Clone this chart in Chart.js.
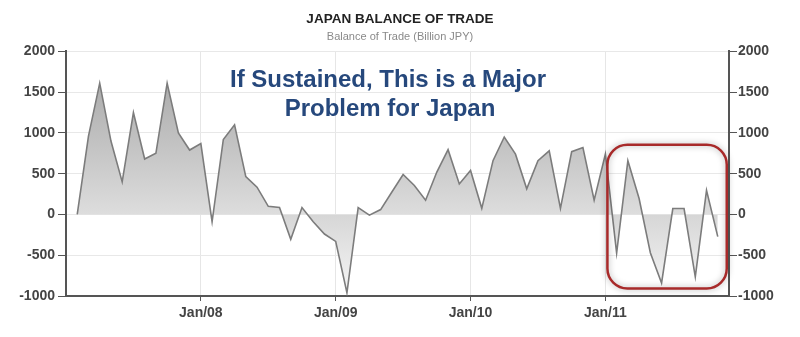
<!DOCTYPE html>
<html>
<head>
<meta charset="utf-8">
<script src="https://cdn.jsdelivr.net/npm/chart.js@4.4.1/dist/chart.umd.min.js"></script>
<style>
  html, body { margin: 0; padding: 0; background: #fff; }
  #wrap { width: 800px; height: 337px; }
</style>
</head>
<body>
<div id="wrap"><canvas id="tradeChart" width="800" height="337"></canvas></div>
<script>
// ===== データ (Billion JPY, 月次) =====
const months = [
  '2007-01','2007-02','2007-03','2007-04','2007-05','2007-06','2007-07','2007-08','2007-09','2007-10','2007-11','2007-12',
  '2008-01','2008-02','2008-03','2008-04','2008-05','2008-06','2008-07','2008-08','2008-09','2008-10','2008-11','2008-12',
  '2009-01','2009-02','2009-03','2009-04','2009-05','2009-06','2009-07','2009-08','2009-09','2009-10','2009-11','2009-12',
  '2010-01','2010-02','2010-03','2010-04','2010-05','2010-06','2010-07','2010-08','2010-09','2010-10','2010-11','2010-12',
  '2011-01','2011-02','2011-03','2011-04','2011-05','2011-06','2011-07','2011-08','2011-09','2011-10'
];
const balance = [
  0, 960, 1610, 900, 400, 1250, 680, 750, 1610, 1000, 790, 870,
  -90, 920, 1100, 465, 335, 100, 85, -305, 85, -90, -240, -330,
  -960, 85, -8, 60, 275, 490, 355, 175, 520, 795, 375, 540,
  75, 660, 950, 740, 315, 660, 780, 75, 770, 820, 175, 740,
  -475, 660, 195, -470, -840, 73, 73, -765, 295, -272
];
const yearTicks = [2008, 2009, 2010, 2011];
const yearTickLabels = ['Jan/08', 'Jan/09', 'Jan/10', 'Jan/11'];
const yTicks = [-1000, -500, 0, 500, 1000, 1500, 2000];
const titleText = 'JAPAN BALANCE OF TRADE';
const subtitleText = 'Balance of Trade (Billion JPY)';
const noteLines = ['If Sustained, This is a Major', 'Problem for Japan'];
// 強調枠 (データ座標)
const boxX = [2011.015, 2011.90];
const boxY = [-908, 854];

// 月 → 月末の位置 (年 + 月/12)
const points = months.map((m, i) => {
  const [y, mo] = m.split('-').map(Number);
  return { x: y + mo / 12, y: balance[i] };
});

const axisColor = '#555';
const tickFont = { family: 'Liberation Sans, Arial, sans-serif', size: 14, weight: 'bold' };

// ===== 塗りグラデーション =====
function areaFill(ctx) {
  const chart = ctx.chart;
  const area = chart.chartArea;
  if (!area) return 'rgba(0,0,0,0.15)';
  const ys = chart.scales.y;
  const zero = (ys.getPixelForValue(0) - area.top) / (area.bottom - area.top);
  const g = chart.ctx.createLinearGradient(0, area.top, 0, area.bottom);
  g.addColorStop(0, '#a0a0a0');
  g.addColorStop(zero, '#dddddd');
  g.addColorStop(Math.min(zero + 0.001, 1), '#d6d6d6');
  g.addColorStop(1, '#f7f7f7');
  return g;
}

// ===== 注記・強調枠プラグイン =====
const notePlugin = {
  id: 'note',
  afterDatasetsDraw(chart) {
    const { ctx, scales: { x, y } } = chart;
    // 赤い角丸枠
    const x1 = x.getPixelForValue(boxX[0]), x2 = x.getPixelForValue(boxX[1]);
    const y1 = y.getPixelForValue(boxY[1]), y2 = y.getPixelForValue(boxY[0]);
    ctx.save();
    ctx.shadowColor = 'rgba(0,0,0,0.35)';
    ctx.shadowBlur = 6;
    ctx.strokeStyle = '#a82a2a';
    ctx.lineWidth = 2.5;
    ctx.beginPath();
    ctx.roundRect(x1, y1, x2 - x1, y2 - y1, 20);
    ctx.stroke();
    ctx.restore();

    // テキスト注記
    ctx.save();
    ctx.fillStyle = '#26487c';
    ctx.font = 'bold 24px "Liberation Sans", Arial, sans-serif';
    ctx.textAlign = 'center';
    ctx.textBaseline = 'alphabetic';
    ctx.fillText(noteLines[0], 388, 87);
    ctx.fillText(noteLines[1], 390, 116);
    ctx.restore();
  }
};

new Chart(document.getElementById('tradeChart'), {
  type: 'line',
  data: {
    datasets: [{
      label: 'Balance of Trade',
      data: points,
      borderColor: '#7c7c7c',
      borderWidth: 1.6,
      pointRadius: 0,
      tension: 0,
      fill: 'origin',
      backgroundColor: areaFill,
    }]
  },
  options: {
    responsive: false,
    animation: false,
    layout: { padding: 0 },
    plugins: {
      legend: { display: false },
      tooltip: { enabled: false },
      title: {
        display: true,
        text: titleText,
        color: '#222',
        font: { family: 'Liberation Sans, Arial, sans-serif', size: 13.5, weight: 'bold' },
        padding: { top: 11, bottom: 0 },
      },
      subtitle: {
        display: true,
        text: subtitleText,
        color: '#8a8a8a',
        font: { family: 'Liberation Sans, Arial, sans-serif', size: 11 },
        padding: { top: 3, bottom: 8 },
      },
    },
    scales: {
      x: {
        type: 'linear',
        min: 2007,
        max: 2011 + 11 / 12,
        afterBuildTicks: s => { s.ticks = yearTicks.map(v => ({ value: v })); },
        afterFit: s => { s.height = 41; },
        ticks: {
          callback: v => yearTickLabels[yearTicks.indexOf(v)] ?? '',
          color: '#444',
          font: tickFont,
          padding: 4,
          maxRotation: 0,
        },
        grid: { color: '#e6e6e6', tickColor: axisColor, tickLength: 5 },
        border: { color: axisColor, width: 2 },
      },
      y: {
        position: 'left',
        min: -1000,
        max: 2000,
        afterBuildTicks: s => { s.ticks = yTicks.map(v => ({ value: v })); },
        afterFit: s => { s.width = 66; },
        ticks: { color: '#444', font: tickFont, padding: 3, callback: v => String(v) },
        grid: { color: '#e8e8e8', tickColor: axisColor, tickLength: 8 },
        border: { color: axisColor, width: 2 },
      },
      y2: {
        position: 'right',
        min: -1000,
        max: 2000,
        afterBuildTicks: s => { s.ticks = yTicks.map(v => ({ value: v })); },
        afterFit: s => { s.width = 71; },
        ticks: { color: '#444', font: tickFont, padding: 1, callback: v => String(v) },
        grid: { drawOnChartArea: false, tickColor: axisColor, tickLength: 8 },
        border: { color: axisColor, width: 2 },
      },
    }
  },
  plugins: [notePlugin]
});
</script>
</body>
</html>
